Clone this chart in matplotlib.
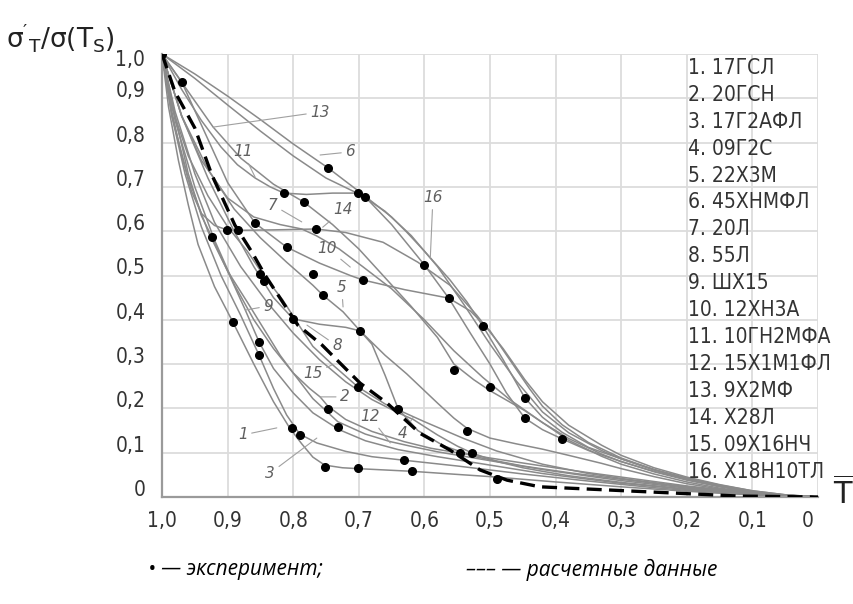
import numpy as np
import matplotlib
matplotlib.use('Agg')
import matplotlib.pyplot as plt
from matplotlib.transforms import ScaledTranslation

# curves: (T, sigma'/sigma) pairs
s1 = [(1, 1), (0.99, 0.88), (0.975, 0.76), (0.96, 0.66), (0.945, 0.57), (0.92, 0.475), (0.892, 0.395),
      (0.86, 0.30), (0.83, 0.215), (0.805, 0.155), (0.787, 0.12), (0.77, 0.09), (0.752, 0.072),
      (0.725, 0.066), (0.701, 0.064), (0.66, 0.061), (0.619, 0.058), (0.55, 0.051), (0.5, 0.046),
      (0.4, 0.034), (0.3, 0.023), (0.2, 0.013), (0.1, 0.005), (0, 0)]
s2 = [(1, 1), (0.98, 0.85), (0.95, 0.70), (0.92, 0.58), (0.89, 0.48), (0.86, 0.40), (0.83, 0.335),
      (0.80, 0.28), (0.775, 0.245), (0.759, 0.226), (0.747, 0.205), (0.72, 0.175), (0.68, 0.148),
      (0.631, 0.125), (0.59, 0.11), (0.546, 0.099), (0.5, 0.088), (0.46, 0.079), (0.42, 0.07),
      (0.35, 0.055), (0.3, 0.045), (0.2, 0.025), (0.1, 0.009), (0, 0)]
s3 = [(1, 1), (0.985, 0.86), (0.965, 0.73), (0.94, 0.61), (0.91, 0.50), (0.88, 0.41), (0.852, 0.32),
      (0.83, 0.245), (0.81, 0.185), (0.79, 0.142), (0.764, 0.122), (0.72, 0.103), (0.68, 0.091),
      (0.631, 0.083), (0.55, 0.07), (0.45, 0.052), (0.35, 0.036), (0.25, 0.021), (0.15, 0.009),
      (0.07, 0.003), (0, 0)]
s4 = [(1, 1), (0.98, 0.87), (0.95, 0.73), (0.92, 0.62), (0.88, 0.52), (0.84, 0.44), (0.80, 0.37),
      (0.76, 0.31), (0.72, 0.26), (0.68, 0.22), (0.64, 0.19), (0.617, 0.175), (0.58, 0.14),
      (0.55, 0.115), (0.527, 0.099), (0.489, 0.08), (0.45, 0.066), (0.42, 0.058), (0.38, 0.048),
      (0.3, 0.033), (0.2, 0.018), (0.1, 0.007), (0, 0)]
s5 = [(1, 1), (0.97, 0.86), (0.93, 0.74), (0.89, 0.65), (0.85, 0.585), (0.81, 0.53), (0.77, 0.478),
      (0.755, 0.456), (0.724, 0.418), (0.698, 0.375), (0.66, 0.32), (0.627, 0.278), (0.58, 0.212),
      (0.555, 0.178), (0.535, 0.155), (0.5, 0.133), (0.46, 0.12), (0.42, 0.108), (0.38, 0.094),
      (0.33, 0.076), (0.3, 0.064), (0.25, 0.046), (0.2, 0.03), (0.15, 0.018), (0.1, 0.009),
      (0.05, 0.003), (0, 0)]
s6 = [(1, 1), (0.95, 0.955), (0.9, 0.905), (0.85, 0.852), (0.8, 0.797), (0.747, 0.743), (0.70, 0.69),
      (0.65, 0.632), (0.627, 0.598), (0.6, 0.555), (0.561, 0.49), (0.535, 0.44), (0.511, 0.386),
      (0.48, 0.31), (0.447, 0.224), (0.42, 0.18), (0.39, 0.146), (0.35, 0.112), (0.3, 0.086),
      (0.25, 0.062), (0.2, 0.043), (0.15, 0.027), (0.1, 0.014), (0.05, 0.005), (0, 0)]
s7 = [(1, 1), (0.97, 0.86), (0.94, 0.76), (0.9, 0.675), (0.86, 0.632), (0.82, 0.615), (0.787, 0.605),
      (0.765, 0.59), (0.73, 0.56), (0.694, 0.52), (0.65, 0.47), (0.6, 0.40), (0.555, 0.33),
      (0.511, 0.27), (0.47, 0.22), (0.42, 0.168), (0.38, 0.128), (0.33, 0.092), (0.3, 0.074),
      (0.25, 0.052), (0.2, 0.034), (0.15, 0.02), (0.1, 0.01), (0.05, 0.003), (0, 0)]
s8 = [(1, 1), (0.97, 0.86), (0.93, 0.72), (0.89, 0.60), (0.86, 0.52), (0.83, 0.45), (0.80, 0.402),
      (0.76, 0.39), (0.72, 0.383), (0.698, 0.375), (0.68, 0.345), (0.66, 0.275), (0.64, 0.199),
      (0.61, 0.15), (0.57, 0.115), (0.52, 0.09), (0.45, 0.07), (0.38, 0.055), (0.3, 0.04),
      (0.2, 0.022), (0.1, 0.008), (0, 0)]
s9 = [(1, 1), (0.98, 0.86), (0.96, 0.73), (0.94, 0.635), (0.924, 0.587), (0.9, 0.51), (0.873, 0.422),
      (0.852, 0.35), (0.83, 0.29), (0.80, 0.235), (0.77, 0.19), (0.73, 0.152), (0.69, 0.127),
      (0.64, 0.107), (0.58, 0.091), (0.5, 0.072), (0.42, 0.053), (0.35, 0.04), (0.3, 0.031),
      (0.2, 0.017), (0.1, 0.006), (0, 0)]
s10 = [(1, 1), (0.97, 0.937), (0.94, 0.84), (0.9, 0.71), (0.858, 0.618), (0.81, 0.564), (0.76, 0.528),
       (0.713, 0.50), (0.694, 0.49), (0.63, 0.468), (0.563, 0.449), (0.53, 0.42), (0.50, 0.375),
       (0.47, 0.31), (0.44, 0.245), (0.42, 0.205), (0.39, 0.163), (0.35, 0.123), (0.3, 0.088),
       (0.25, 0.062), (0.2, 0.041), (0.15, 0.025), (0.1, 0.012), (0.05, 0.004), (0, 0)]
s11 = [(1, 1), (0.97, 0.92), (0.94, 0.85), (0.91, 0.79), (0.885, 0.75), (0.858, 0.72), (0.835, 0.70),
       (0.814, 0.686), (0.78, 0.683), (0.74, 0.686), (0.701, 0.686), (0.66, 0.645), (0.62, 0.59),
       (0.58, 0.52), (0.54, 0.435), (0.50, 0.345), (0.46, 0.262), (0.42, 0.192), (0.38, 0.145),
       (0.33, 0.105), (0.3, 0.086), (0.25, 0.061), (0.2, 0.041), (0.15, 0.025), (0.1, 0.012),
       (0.05, 0.004), (0, 0)]
s12 = [(1, 1), (0.985, 0.86), (0.96, 0.72), (0.93, 0.60), (0.9, 0.51), (0.87, 0.44), (0.845, 0.38),
       (0.82, 0.32), (0.80, 0.28), (0.77, 0.222), (0.732, 0.17), (0.69, 0.142), (0.652, 0.125),
       (0.619, 0.114), (0.58, 0.102), (0.5, 0.082), (0.42, 0.062), (0.35, 0.047), (0.3, 0.037),
       (0.2, 0.02), (0.1, 0.007), (0, 0)]
s13 = [(1, 1), (0.96, 0.915), (0.922, 0.835), (0.88, 0.765), (0.83, 0.706), (0.784, 0.666),
       (0.74, 0.615), (0.70, 0.56), (0.663, 0.50), (0.62, 0.43), (0.58, 0.36), (0.555, 0.30),
       (0.525, 0.265), (0.50, 0.24), (0.447, 0.195), (0.42, 0.168), (0.38, 0.132), (0.33, 0.097),
       (0.3, 0.08), (0.25, 0.057), (0.2, 0.038), (0.15, 0.023), (0.1, 0.011), (0.05, 0.004), (0, 0)]
s14 = [(1, 1), (0.985, 0.87), (0.97, 0.77), (0.955, 0.69), (0.94, 0.64), (0.92, 0.613), (0.901, 0.603),
       (0.884, 0.602), (0.83, 0.603), (0.765, 0.605), (0.72, 0.597), (0.663, 0.575), (0.61, 0.53),
       (0.561, 0.478), (0.52, 0.41), (0.48, 0.335), (0.447, 0.265), (0.42, 0.215), (0.38, 0.162),
       (0.33, 0.117), (0.3, 0.094), (0.25, 0.066), (0.2, 0.045), (0.15, 0.028), (0.1, 0.014),
       (0.05, 0.005), (0, 0)]
s15 = [(1, 1), (0.985, 0.88), (0.96, 0.77), (0.93, 0.68), (0.9, 0.61), (0.87, 0.555), (0.845, 0.50),
       (0.816, 0.445), (0.79, 0.385), (0.77, 0.34), (0.741, 0.30), (0.701, 0.248), (0.66, 0.21),
       (0.6, 0.17), (0.54, 0.132), (0.49, 0.104), (0.42, 0.074), (0.35, 0.053), (0.3, 0.042),
       (0.2, 0.023), (0.1, 0.008), (0, 0)]
s16 = [(1, 1), (0.95, 0.945), (0.9, 0.885), (0.85, 0.826), (0.8, 0.77), (0.75, 0.72), (0.69, 0.677),
       (0.65, 0.615), (0.6, 0.524), (0.563, 0.449), (0.53, 0.37), (0.50, 0.30), (0.475, 0.235),
       (0.447, 0.178), (0.42, 0.152), (0.39, 0.131), (0.35, 0.105), (0.3, 0.08), (0.25, 0.058),
       (0.2, 0.04), (0.15, 0.024), (0.1, 0.012), (0.05, 0.004), (0, 0)]

# calculated curve (dashed)
calc_x = [1.0, 0.98, 0.95, 0.924, 0.889, 0.863, 0.843, 0.828, 0.793, 0.756, 0.721, 0.698, 0.657,
          0.607, 0.561, 0.515, 0.474, 0.424, 0.322, 0.221, 0.119, 0.0]
calc_y = [1.0, 0.914, 0.833, 0.727, 0.614, 0.553, 0.501, 0.467, 0.388, 0.343, 0.291, 0.257, 0.212,
          0.144, 0.106, 0.061, 0.038, 0.023, 0.016, 0.009, 0.002, 0.0]

# experiment points
exp_x = [1.0, 0.97, 0.747, 0.814, 0.784, 0.701, 0.69, 0.858, 0.901, 0.884, 0.924, 0.765, 0.81, 0.60,
         0.694, 0.77, 0.851, 0.845, 0.755, 0.563, 0.892, 0.80, 0.698, 0.852, 0.852, 0.511, 0.555,
         0.50, 0.447, 0.447, 0.701, 0.747, 0.64, 0.732, 0.802, 0.79, 0.535, 0.546, 0.527, 0.631,
         0.619, 0.752, 0.701, 0.489, 0.39]
exp_y = [1.0, 0.937, 0.743, 0.686, 0.666, 0.686, 0.677, 0.618, 0.603, 0.603, 0.587, 0.605, 0.564,
         0.524, 0.49, 0.503, 0.503, 0.488, 0.456, 0.449, 0.395, 0.402, 0.375, 0.35, 0.32, 0.386,
         0.287, 0.249, 0.224, 0.178, 0.248, 0.199, 0.199, 0.158, 0.156, 0.14, 0.149, 0.099, 0.099,
         0.083, 0.059, 0.068, 0.065, 0.041, 0.131]

steel_names = ['17ГСЛ', '20ГСН', '17Г2АФЛ', '09Г2С', '22Х3М', '45ХНМФЛ', '20Л', '55Л', 'ШХ15',
               '12ХН3А', '10ГН2МФА', '15Х1М1ФЛ', '9Х2МФ', 'Х28Л', '09Х16НЧ', 'Х18Н10ТЛ']

# curve numbers on the plot and where their leader lines touch
num_x = [0.877, 0.721, 0.835, 0.633, 0.726, 0.713, 0.831, 0.733, 0.838, 0.748, 0.877, 0.683,
         0.759, 0.724, 0.770, 0.587]
num_y = [0.140, 0.226, 0.054, 0.144, 0.472, 0.779, 0.659, 0.341, 0.431, 0.562, 0.779, 0.181,
         0.869, 0.648, 0.278, 0.675]
lead_x = [0.825, 0.759, 0.764, 0.617, 0.724, 0.759, 0.787, 0.779, 0.873, 0.713, 0.858, 0.652,
          0.922, 0.755, 0.741, 0.591]
lead_y = [0.156, 0.226, 0.133, 0.180, 0.429, 0.772, 0.621, 0.388, 0.422, 0.519, 0.722, 0.122,
          0.835, 0.609, 0.298, 0.540]

ticks = np.round(np.arange(0, 1.01, 0.1), 1)
tick_labels = ['0', '0,1', '0,2', '0,3', '0,4', '0,5', '0,6', '0,7', '0,8', '0,9', '1,0']

W, H = 854, 604
narrow = dict(family='DejaVu Sans', fontstretch='condensed', fontweight='light')

fig = plt.figure(figsize=(W / 100, H / 100), dpi=100)
ax = fig.add_axes([162 / W, 1 - 497 / H, 656 / W, 443 / H])

curves = [s1, s2, s3, s4, s5, s6, s7, s8, s9, s10, s11, s12, s13, s14, s15, s16]
for s in curves:
    x, y = zip(*s)
    ax.plot(x, y, color='#8a8a8a', lw=1.1, zorder=2, solid_joinstyle='round')

ax.plot(calc_x, calc_y, color='black', lw=2.4, dashes=(4.5, 2.2), zorder=3)
ax.plot(exp_x, exp_y, 'o', color='black', ms=5.5, zorder=4)

for i in range(16):
    ax.annotate(str(i + 1), xy=(lead_x[i], lead_y[i]), xytext=(num_x[i], num_y[i]),
                fontsize=11, style='italic', color='#606060', ha='center', va='center',
                arrowprops=dict(arrowstyle='-', color='#a0a0a0', lw=0.8, shrinkA=1, shrinkB=0),
                zorder=2)

ax.set_xlim(1, 0)
ax.set_ylim(0, 1)
ax.set_xticks(ticks)
ax.set_xticklabels(tick_labels, fontsize=15, color='#333333', **narrow)
ax.set_yticks(ticks)
ax.set_yticklabels(tick_labels, fontsize=15, color='#333333', **narrow)
ax.tick_params(length=0)
ax.tick_params(axis='x', pad=10)
ax.tick_params(axis='y', pad=12)
ax.grid(True, color='#dcdcdc', lw=1.3)
ax.set_axisbelow(True)
for side in ['top', 'right']:
    ax.spines[side].set_visible(False)
for side in ['left', 'bottom']:
    ax.spines[side].set_color('#9a9a9a')
    ax.spines[side].set_linewidth(1.6)

# hand placed labels sit a little above their grid lines
for lab, v in zip(ax.get_yticklabels(), ticks):
    dy = -4 if v == 1.0 else 9
    lab.set_transform(lab.get_transform() + ScaledTranslation(0, dy / 100, fig.dpi_scale_trans))
xl = ax.get_xticklabels()
xl[0].set_transform(xl[0].get_transform() + ScaledTranslation(-10 / 100, 0, fig.dpi_scale_trans))

# axis titles
fig.text(6 / W, 1 - 38 / H, r"$\mathregular{\sigma'_T/\sigma(T_S)}$", fontsize=19,
         va='center', ha='left', color='#222222')
fig.text(843 / W, 1 - 494 / H, r"$\overline{\mathrm{T}}$", fontsize=22, va='center', ha='center',
         color='#222222')

# list of steels
for i, name in enumerate(steel_names):
    fig.text(688 / W, 1 - (68 + i * 26.9) / H, f'{i + 1}. {name}', fontsize=15,
             color='#333333', va='center', ha='left', **narrow)

# notes under the chart
fig.text(148 / W, 1 - 570 / H, '\u2022 \u2014 эксперимент;', family=['Open Sans', 'DejaVu Sans'],
         style='italic', fontsize=15, va='center', ha='left')
fig.text(466 / W, 1 - 570 / H, '\u2013\u2013\u2013 \u2014 расчетные данные',
         family=['Open Sans', 'DejaVu Sans'], style='italic', fontsize=15, va='center', ha='left')

fig.savefig('out.png', dpi=100)
